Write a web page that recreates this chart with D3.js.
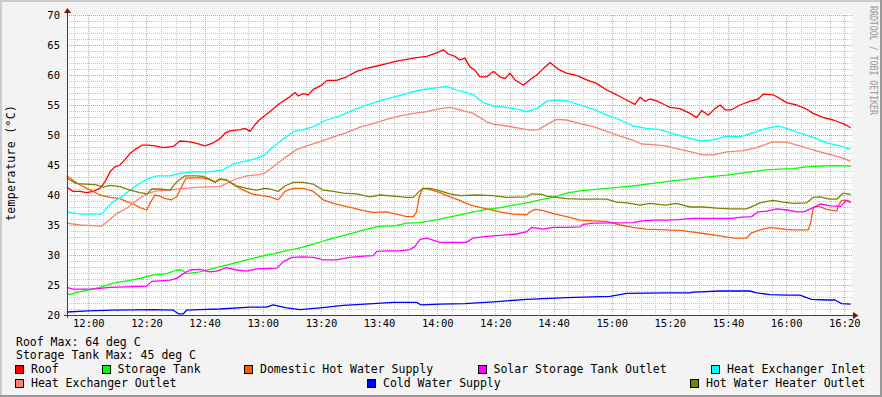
<!DOCTYPE html>
<html>
<head>
<meta charset="utf-8">
<script src="https://cdn.jsdelivr.net/npm/d3@7"></script>
<style>
  html, body { margin: 0; padding: 0; background: #f3f3f3; }
  svg text { font-family: "DejaVu Sans Mono", monospace; }
</style>
</head>
<body>
<svg id="chart" width="882" height="397"></svg>
<script>
// minutes relative to 12:00, temperature in deg C
var roof = [[-7.4,41.3],[-5.2,40.6],[-2.9,40.6],[-0.6,40.4],[1.7,40.6],[4,41.1],[5.7,42.2],[7.5,43.9],[9.2,44.7],[10.9,45.0],[12.6,45.9],[14.3,46.9],[16.1,47.6],[18.4,48.3],[20.6,48.3],[22.9,48.2],[25.8,47.9],[29.2,48.1],[31.5,49.0],[34.4,48.9],[37.3,48.6],[40.1,48.2],[43,48.7],[45.3,49.4],[47,50.3],[48.7,50.7],[52.2,50.9],[53.9,51.1],[55.6,50.6],[57.3,51.7],[59,52.6],[62.5,53.9],[65.9,55.3],[69.4,56.4],[71.1,57.1],[72.2,56.5],[73.9,56.9],[75.7,56.7],[77.4,57.6],[80.3,58.3],[82,59.1],[85.4,59.1],[88.9,59.7],[92.3,60.6],[95.7,61.1],[99.2,61.5],[102.6,61.9],[106,62.3],[109.5,62.6],[112.9,62.9],[116.4,63.1],[119.8,63.7],[122.1,64.2],[123.8,63.5],[126.1,63.1],[127.8,62.5],[129.5,62.8],[131.2,61.4],[132.9,60.8],[134.7,59.7],[137,59.7],[139.3,60.6],[141.6,59.7],[143.3,59.4],[145,60.3],[146.7,59.2],[149.6,58.3],[151.9,59.2],[154.2,60.0],[156.5,61.1],[158.8,62.1],[160.5,61.4],[162.2,60.8],[164.5,60.3],[167.4,60.0],[169.1,59.7],[171.4,59.2],[174.8,58.6],[178.3,57.5],[181.7,56.7],[185.2,55.8],[188,55.1],[189.8,56.3],[191.5,55.6],[193.2,56.0],[195.5,55.7],[198.4,55.0],[200,54.6],[203.5,54.4],[206.9,53.6],[209.2,52.9],[211,54.1],[213.2,53.3],[215.5,54.4],[217.3,55.0],[219,54.2],[221.2,54.2],[224.1,55.0],[227.5,55.6],[230.4,56.0],[232.1,56.8],[235.5,56.7],[237.8,56.1],[240.1,55.4],[243.6,55.0],[247,54.3],[249.3,53.6],[252.8,52.9],[256.2,52.5],[259.6,51.9],[262.2,51.2]];

var storageTank = [[-7.4,23.7],[-6.5,23.4],[-2.9,23.9],[0,24.2],[4,24.6],[8.6,25.3],[13.2,25.7],[17.8,26.1],[22.4,26.7],[27,26.9],[30.4,27.5],[32.1,27.5],[33.9,26.9],[38.4,27.2],[44.1,27.9],[49.9,28.6],[55.6,29.3],[61.3,30.0],[63.6,30.2],[67,30.6],[72.8,31.2],[77.4,31.8],[82,32.5],[86.6,33.1],[91.2,33.7],[95.7,34.3],[100.3,34.8],[104.9,34.8],[109.5,35.3],[114.1,35.4],[120,35.9],[127.8,36.7],[132.4,37.2],[137,37.6],[141.6,37.9],[146.2,38.3],[150.8,38.7],[155.4,39.2],[159.9,39.6],[164.5,40.3],[169.1,40.7],[173.7,40.9],[178.3,41.1],[182.9,41.3],[187.4,41.5],[192,41.8],[198.4,42.2],[201.2,42.4],[205.8,42.6],[210.4,42.9],[215,43.1],[219.6,43.3],[224.1,43.6],[228.7,43.9],[233.3,44.2],[237.8,44.3],[242.4,44.4],[247,44.7],[251.6,44.8],[256.2,44.9],[262.2,44.8]];

var dhwSupply = [[-7.4,43.2],[-5.2,42.4],[-2.9,41.7],[-0.6,41.1],[1.7,40.6],[4,40.0],[7.5,39.6],[10.9,39.4],[13.2,38.9],[15.5,38.5],[17.8,37.9],[20.1,37.5],[21.2,38.6],[22.9,40.0],[24.6,39.8],[26.4,39.4],[28.6,39.2],[30.4,39.7],[32.1,41.4],[33.6,42.8],[35.5,42.8],[38.4,42.9],[41.8,42.6],[43.6,42.2],[45.3,42.6],[47.6,42.5],[49.9,41.7],[53.3,40.8],[56.7,40.1],[60.8,39.8],[62.5,39.7],[65.3,39.2],[67.6,40.6],[70.5,41.1],[73.9,41.1],[77.4,40.6],[80.8,39.2],[84.3,38.6],[87.7,38.2],[91.2,37.8],[94.6,37.4],[98,37.1],[102.6,37.2],[106,36.8],[109.5,36.4],[111.8,36.4],[112.9,37.2],[113.8,39.7],[115,41.1],[117.5,40.9],[121,40.4],[124.4,39.7],[127.8,39.1],[129.5,38.7],[132.4,38.2],[137,37.7],[141.6,37.2],[146.2,36.8],[150.8,36.7],[151.9,37.2],[153.7,37.6],[156.5,37.4],[159.9,36.9],[164.5,36.4],[169.1,35.8],[173.7,35.7],[178.3,35.6],[182.9,35.0],[187.4,34.6],[192,34.3],[198.4,34.2],[203.5,34.1],[208.1,33.8],[212.7,33.5],[217.3,33.2],[221.9,32.8],[226.4,32.8],[228.1,33.7],[231,34.2],[234.4,34.6],[237.8,34.4],[241.3,34.2],[247.6,34.2],[248.4,35.3],[249.3,37.8],[251,38.2],[253.9,37.6],[257.4,37.3],[258,38.3],[259.1,39.1],[260.8,39.1],[262.2,38.9]];

var solarOutlet = [[-7.4,24.6],[-5.2,24.3],[1.7,24.3],[7.5,24.6],[13.2,24.7],[20.1,24.8],[21.8,25.6],[24.6,25.7],[28.1,25.8],[30.4,26.1],[32.7,26.9],[35,27.5],[38.4,27.6],[41.8,27.2],[44.1,27.3],[47.6,27.9],[51,27.5],[54.5,27.3],[57.9,27.7],[64.8,27.8],[67.1,28.9],[70,29.6],[73.9,29.7],[77.4,29.6],[80.8,29.2],[85.4,29.2],[90,29.6],[94.6,29.8],[98,29.9],[99.2,30.6],[102.6,30.7],[107.2,30.7],[110.6,30.9],[112.3,31.4],[114.1,32.6],[116.4,32.8],[121,32.1],[130,32.1],[132.2,32.8],[137,33.1],[142.7,33.3],[147.3,33.5],[150.8,33.9],[152.5,34.6],[156.5,34.3],[159.9,34.6],[164.5,34.6],[169.1,34.7],[170.3,35.1],[173.7,35.3],[187.4,35.4],[190.3,35.7],[194.3,35.8],[198.4,35.8],[203,35.9],[207.6,36.1],[221.3,36.1],[224.9,36.3],[228.1,36.4],[230.4,37.2],[233.3,37.3],[236.8,37.7],[240.3,37.5],[243.7,37.2],[246.1,37.2],[248.4,37.7],[251.8,38.5],[255.2,38.2],[258.7,38.1],[260.8,39.1],[262.2,38.7]];

var hxInlet = [[-7.4,37.2],[-4,36.9],[-0.6,36.8],[4.6,36.8],[6.3,37.8],[8.6,38.9],[11.5,39.7],[14.3,40.8],[17.2,41.8],[20.1,42.6],[23.5,43.2],[28.1,43.2],[31.5,43.6],[36.1,43.9],[40.7,43.8],[46.4,44.2],[49.9,45.2],[54.5,45.7],[57.9,46.1],[60.8,46.7],[62.5,47.6],[65.9,48.9],[70.5,50.6],[73.9,50.9],[77.4,51.4],[82,52.5],[86.6,53.2],[91.2,54.2],[95.7,55.0],[100.3,55.7],[104.9,56.3],[109.5,56.9],[114.1,57.5],[118.7,57.8],[123.3,58.1],[126.7,57.5],[129.5,57.1],[132.4,56.7],[135.8,55.4],[139.3,54.8],[143.9,54.6],[147.3,54.3],[150.8,53.9],[154.2,54.4],[157.6,55.6],[160.5,55.8],[164.5,55.7],[169.1,55.0],[173.7,54.3],[178.3,53.3],[182.9,52.5],[187.4,51.5],[192,51.1],[196.6,50.9],[201.2,50.2],[205.8,49.6],[210.4,49.0],[215,49.2],[219.6,49.8],[224.1,49.7],[228.7,50.4],[233.3,51.1],[237.3,51.5],[240.1,51.1],[244.7,50.3],[249.3,49.6],[253.9,48.7],[258.5,48.2],[262.2,47.6]];

var hxOutlet = [[-7.4,35.3],[-2.9,35.0],[4.6,34.8],[6.9,35.7],[9.8,36.9],[13.2,37.8],[16.6,39.1],[20.1,40.2],[23.5,40.7],[28.1,40.8],[32.7,41.1],[38.4,41.3],[45.3,41.4],[49.9,42.5],[54.5,43.2],[59,43.4],[60.8,43.7],[63.6,44.7],[68.2,46.4],[71.7,47.6],[75.1,48.2],[79.7,48.9],[84.3,49.7],[88.9,50.4],[93.4,51.3],[98,51.9],[102.6,52.6],[107.2,53.2],[111.8,53.6],[116.4,53.9],[121,54.4],[124.4,54.6],[127.8,54.2],[132.4,53.6],[137,52.2],[139.3,51.8],[143.9,51.5],[148.5,51.1],[151.9,50.8],[154.8,50.9],[158.2,51.9],[161.1,52.6],[164.5,52.5],[169.1,51.9],[173.7,51.4],[178.3,50.6],[182.9,49.8],[187.4,49.1],[190.3,48.5],[194.3,48.4],[198.4,48.2],[203.5,47.6],[208.1,47.1],[211.5,46.7],[215,46.7],[219.6,47.2],[225.3,47.4],[229.9,47.9],[235.1,48.8],[240.1,48.8],[244.7,48.2],[249.3,47.5],[253.9,46.9],[258.5,46.3],[262.2,45.6]];

var coldWater = [[-7.4,20.5],[0,20.7],[8.6,20.8],[22.4,20.9],[29.2,20.8],[31,20.2],[32.7,20.2],[33.8,20.8],[38.4,20.9],[45.3,21.0],[55.6,21.3],[61.3,21.3],[63.6,21.7],[68.2,21.2],[72.8,20.9],[79.7,21.2],[87.7,21.6],[98,21.9],[104.9,22.1],[112.9,22.1],[114.3,21.7],[121,21.8],[129.5,21.9],[139.3,22.2],[150.8,22.6],[164.5,22.9],[179.4,23.1],[185.2,23.6],[198.4,23.7],[206.9,23.7],[208.1,23.8],[217.3,24.0],[227.5,24.0],[229.9,23.7],[234.4,23.4],[240.1,23.3],[244.7,23.3],[248.7,22.6],[253.9,22.5],[256.8,22.5],[259.1,21.9],[262.2,21.8]];

var heaterOutlet = [[-7.4,42.8],[-4,41.9],[-0.6,41.8],[2.8,41.7],[5.1,41.3],[7.5,41.6],[10.9,41.4],[14.3,40.8],[17.8,40.4],[20.3,40.2],[21.8,41.0],[24.6,41.0],[28.1,40.8],[30.4,42.2],[33.3,43.2],[37.3,43.2],[39.6,43.1],[41.8,42.6],[43.6,42.1],[45.3,42.7],[47.6,42.5],[51,41.5],[54.5,41.1],[57.9,40.8],[60.8,41.1],[62.5,41.0],[65.3,40.6],[67.6,41.5],[70.5,42.1],[73.9,42.1],[77.4,41.8],[80.8,40.8],[84.3,40.6],[87.7,40.3],[92.3,40.2],[96.9,39.7],[100.3,40.0],[104.9,39.8],[109.5,39.6],[111.8,39.6],[113.8,40.6],[115,41.1],[117.5,41.1],[121,40.7],[124.4,40.2],[127.8,39.9],[133.5,40.0],[139.3,39.9],[143.9,39.6],[150.8,39.7],[152.5,40.2],[156,40.1],[157.6,39.8],[164.5,39.4],[169.1,39.3],[178.3,39.3],[181.7,38.8],[185.2,38.7],[189.8,38.3],[193.2,38.6],[198.4,38.3],[202.3,38.6],[206.9,38.0],[211.5,38.0],[216.1,37.8],[220.6,37.7],[226.4,37.7],[231,38.7],[235.5,39.1],[239,38.8],[242.4,38.6],[247,38.7],[249.3,39.6],[251.6,39.7],[255,39.3],[257.4,39.3],[259.6,40.3],[262.2,40.1]];

var seriesNames = ["Roof", "Storage Tank", "Domestic Hot Water Supply", "Solar Storage Tank Outlet",
  "Heat Exchanger Inlet", "Heat Exchanger Outlet", "Cold Water Supply", "Hot Water Heater Outlet"];
var seriesColors = ["#ff0000", "#00ff00", "#ff5a0a", "#ff00ff", "#00ffff", "#fa8072", "#0000ff", "#808000"];
var seriesData = [roof, storageTank, dhwSupply, solarOutlet, hxInlet, hxOutlet, coldWater, heaterOutlet];

var maxLines = ["Roof Max: 64 deg C", "Storage Tank Max: 45 deg C"];
var yTicks = [20, 25, 30, 35, 40, 45, 50, 55, 60, 65, 70];

!(function (d3) {

  var svg = d3.select("#chart"),
    width = +svg.attr("width"),
    height = +svg.attr("height");

  var base = new Date(2010, 5, 1, 12, 0, 0);
  function tm(m) { return new Date(base.getTime() + m * 60000); }

  var pLeft = 67, pRight = 852, pTop = 15, pBottom = 315;

  var x = d3.scaleTime().domain([tm(-7.33), tm(262.65)]).range([pLeft, pRight]);
  var y = d3.scaleLinear().domain([20, 70]).range([pBottom, pTop]);

  // background + shaded frame
  svg.append("rect").attr("width", width).attr("height", height).attr("fill", "#f3f3f3");
  svg.append("path").attr("d", "M0,0H" + width + "V2H2V" + height + "H0Z").attr("fill", "#cbcbcb");
  svg.append("path").attr("d", "M" + width + "," + height + "H0V" + (height - 2) + "H" + (width - 2) + "V0H" + width + "Z").attr("fill", "#999999");

  svg.append("rect").attr("x", pLeft).attr("y", pTop - 1).attr("width", pRight - pLeft).attr("height", pBottom - pTop + 1).attr("fill", "#ffffff");

  // grid
  var grid = svg.append("g").attr("shape-rendering", "crispEdges");
  var minorX = x.ticks(d3.timeMinute.every(5)),
    majorX = x.ticks(d3.timeMinute.every(20));
  var isMajor = function (d) { return d.getMinutes() % 20 === 0; };

  grid.selectAll(".vminor").data(minorX.filter(function (d) { return !isMajor(d); }))
    .enter().append("line")
    .attr("x1", function (d) { return Math.round(x(d)) + 0.5; })
    .attr("x2", function (d) { return Math.round(x(d)) + 0.5; })
    .attr("y1", pTop).attr("y2", pBottom)
    .attr("stroke", "#c8c8c8").attr("stroke-dasharray", "1,1");

  var minorY = d3.range(21, 70).filter(function (v) { return v % 5 !== 0; });
  grid.selectAll(".hminor").data(minorY).enter().append("line")
    .attr("x1", pLeft).attr("x2", pRight)
    .attr("y1", function (d) { return Math.round(y(d)) + 0.5; })
    .attr("y2", function (d) { return Math.round(y(d)) + 0.5; })
    .attr("stroke", "#c8c8c8").attr("stroke-dasharray", "1,1");

  grid.selectAll(".vmajor").data(majorX).enter().append("line")
    .attr("x1", function (d) { return Math.round(x(d)) + 0.5; })
    .attr("x2", function (d) { return Math.round(x(d)) + 0.5; })
    .attr("y1", pTop).attr("y2", pBottom)
    .attr("stroke", "#dd9a9a").attr("stroke-dasharray", "1,1");

  grid.selectAll(".hmajor").data(yTicks.filter(function (v) { return v > 20; })).enter().append("line")
    .attr("x1", pLeft).attr("x2", pRight)
    .attr("y1", function (d) { return Math.round(y(d)) + 0.5; })
    .attr("y2", function (d) { return Math.round(y(d)) + 0.5; })
    .attr("stroke", "#dd9a9a").attr("stroke-dasharray", "1,1");

  // series lines
  var line = d3.line()
    .x(function (d) { return x(tm(d[0])); })
    .y(function (d) { return y(d[1]); });

  var plot = svg.append("g");
  seriesData.forEach(function (s, i) {
    plot.append("path")
      .attr("d", line(s))
      .attr("fill", "none")
      .attr("stroke", seriesColors[i])
      .attr("stroke-width", 1.3)
      .attr("stroke-linejoin", "round");
  });

  // axes
  var axisColor = "#404040", arrowColor = "#7f1010";
  svg.append("line").attr("x1", pLeft - 3).attr("x2", pRight + 2).attr("y1", pBottom + 0.5).attr("y2", pBottom + 0.5)
    .attr("stroke", axisColor).attr("shape-rendering", "crispEdges");
  svg.append("line").attr("x1", pLeft + 0.5).attr("x2", pLeft + 0.5).attr("y1", pBottom + 3).attr("y2", pTop - 2)
    .attr("stroke", axisColor).attr("shape-rendering", "crispEdges");
  svg.append("path").attr("d", "M64,13L71,13L67.5,8Z").attr("fill", arrowColor);
  svg.append("path").attr("d", "M853,312L853,319L858.5,315.5Z").attr("fill", arrowColor);

  var xAxis = svg.append("g")
    .attr("transform", "translate(0," + pBottom + ")")
    .call(d3.axisBottom(x).ticks(d3.timeMinute.every(20)).tickFormat(d3.timeFormat("%H:%M")).tickSize(0).tickPadding(5));
  xAxis.select(".domain").remove();
  xAxis.selectAll("text").attr("font-family", "DejaVu Sans Mono").attr("font-size", "10.5px").attr("fill", "#000");

  var yAxis = svg.append("g")
    .attr("transform", "translate(" + pLeft + ",0)")
    .call(d3.axisLeft(y).tickValues(yTicks).tickFormat(d3.format("d")).tickSize(0).tickPadding(7));
  yAxis.select(".domain").remove();
  yAxis.selectAll("text").attr("font-family", "DejaVu Sans Mono").attr("font-size", "10.5px").attr("fill", "#000");

  // y title
  svg.append("text")
    .attr("transform", "translate(14.5,163) rotate(-90)")
    .attr("text-anchor", "middle")
    .attr("font-size", "11.5px")
    .attr("fill", "#000")
    .attr("textLength", 116)
    .attr("lengthAdjust", "spacing")
    .text("temperature (°C)");

  // vertical credit
  svg.append("text")
    .attr("transform", "translate(870,6) rotate(90)")
    .attr("font-size", "10px")
    .attr("fill", "#999999")
    .attr("textLength", 109)
    .attr("lengthAdjust", "spacingAndGlyphs")
    .text("RRDTOOL / TOBI OETIKER");

  // max lines
  svg.selectAll(".maxline").data(maxLines).enter().append("text")
    .attr("x", 16).attr("y", function (d, i) { return 345.5 + i * 13.8; })
    .attr("font-size", "11.5px").attr("fill", "#000")
    .text(function (d) { return d; });

  // legend
  var legendX = [15.5, 102, 244.5, 478, 711.5, 15.5, 367.5, 690.5];
  var legendRow = [0, 0, 0, 0, 0, 1, 1, 1];
  var lg = svg.append("g");
  seriesNames.forEach(function (name, i) {
    var ly = 373.3 + legendRow[i] * 14;
    lg.append("rect")
      .attr("x", legendX[i]).attr("y", ly - 7.5)
      .attr("width", 8).attr("height", 8)
      .attr("fill", seriesColors[i]).attr("stroke", "#000").attr("stroke-width", 1)
      .attr("shape-rendering", "crispEdges");
    lg.append("text")
      .attr("x", legendX[i] + 15.5).attr("y", ly)
      .attr("font-size", "11.5px").attr("fill", "#000")
      .text(name);
  });

})(d3);
</script>
</body>
</html>
